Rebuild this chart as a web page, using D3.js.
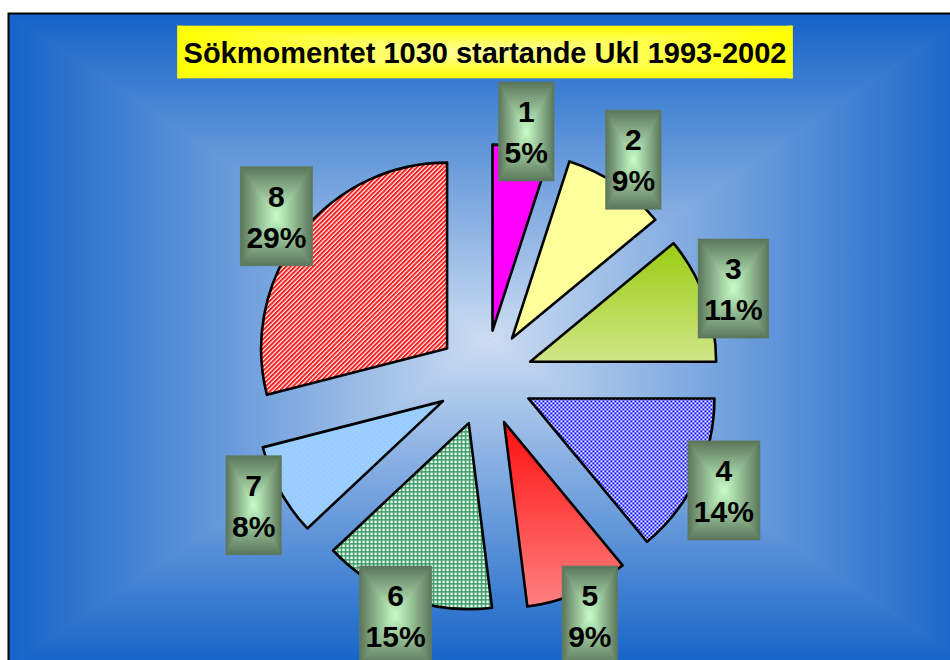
<!DOCTYPE html>
<html>
<head>
<meta charset="utf-8">
<script src="https://cdn.jsdelivr.net/npm/d3@7"></script>
<style>
  body { margin: 0; background: #fff; }
  svg { display: block; }
</style>
</head>
<body>
<div id="chart"></div>
<script>
// slice numbers and their share in percent
var sliceNames = ["1", "2", "3", "4", "5", "6", "7", "8"];
var sliceShares = [5, 9, 11, 14, 9, 15, 8, 29];
var chartTitle = "Sökmomentet 1030 startande Ukl 1993-2002";

var width = 950, height = 660;
var frame = { x: 9, y: 14, w: 962, h: 652 };
var cx = 485, cy = 378,
    radius = 186,
    explode = 48,
    labelRadius = 264;

var svg = d3.select('#chart').append('svg')
    .attr('width', width)
    .attr('height', height);

var defs = svg.append('defs');

// "from center" gradient: four triangles, each fading from its edge to the middle
function centerGradient(id, edge, mid) {
  var dirs = {
    top: [0, 0, 0, 1], bottom: [0, 1, 0, 0],
    left: [0, 0, 1, 0], right: [1, 0, 0, 0]
  };
  Object.keys(dirs).forEach(function(k) {
    var g = defs.append('linearGradient')
      .attr('id', id + '-' + k)
      .attr('x1', dirs[k][0]).attr('y1', dirs[k][1])
      .attr('x2', dirs[k][2]).attr('y2', dirs[k][3]);
    g.append('stop').attr('offset', 0).attr('stop-color', edge);
    g.append('stop').attr('offset', 1).attr('stop-color', mid);
  });
}

function centerFill(sel, id, x, y, w, h, base) {
  var mx = x + w / 2, my = y + h / 2;
  sel.append('rect').attr('x', x).attr('y', y).attr('width', w).attr('height', h)
    .attr('fill', base);
  var tris = {
    top: [[x, y], [x + w, y], [mx, my]],
    bottom: [[x, y + h], [x + w, y + h], [mx, my]],
    left: [[x, y], [x, y + h], [mx, my]],
    right: [[x + w, y], [x + w, y + h], [mx, my]]
  };
  Object.keys(tris).forEach(function(k) {
    sel.append('path')
      .attr('d', 'M' + tris[k].map(function(p) { return p.join(','); }).join('L') + 'Z')
      .attr('fill', 'url(#' + id + '-' + k + ')')
      .attr('stroke', 'url(#' + id + '-' + k + ')')
      .attr('stroke-width', 0.6);
  });
}

centerGradient('bg', '#1463c8', '#cdddf2');
centerGradient('ttl', '#ffff00', '#ffffa0');
centerGradient('lbl', '#5a755a', '#c8fec8');

// slice fills
var g3 = defs.append('linearGradient').attr('id', 'fill3')
  .attr('x1', 0).attr('y1', 0).attr('x2', 0).attr('y2', 1);
g3.append('stop').attr('offset', 0).attr('stop-color', '#99cc11');
g3.append('stop').attr('offset', 1).attr('stop-color', '#d2e688');

var g5 = defs.append('linearGradient').attr('id', 'fill5')
  .attr('x1', 0).attr('y1', 0).attr('x2', 0).attr('y2', 1);
g5.append('stop').attr('offset', 0).attr('stop-color', '#ff1010');
g5.append('stop').attr('offset', 1).attr('stop-color', '#ff8080');

var p4 = defs.append('pattern').attr('id', 'fill4')
  .attr('patternUnits', 'userSpaceOnUse').attr('width', 4).attr('height', 4);
p4.append('rect').attr('width', 4).attr('height', 4).attr('fill', '#ffffff');
p4.append('rect').attr('width', 2).attr('height', 2).attr('fill', '#0000ff');
p4.append('rect').attr('x', 2).attr('y', 2).attr('width', 2).attr('height', 2).attr('fill', '#0000ff');

var p6 = defs.append('pattern').attr('id', 'fill6')
  .attr('patternUnits', 'userSpaceOnUse').attr('width', 4).attr('height', 4);
p6.append('rect').attr('width', 4).attr('height', 4).attr('fill', '#ffffff');
p6.append('rect').attr('width', 4).attr('height', 1.5).attr('fill', '#2f9a5e');
p6.append('rect').attr('width', 1.5).attr('height', 4).attr('fill', '#2f9a5e');

var p7 = defs.append('pattern').attr('id', 'fill7')
  .attr('patternUnits', 'userSpaceOnUse').attr('width', 6).attr('height', 6);
p7.append('rect').attr('width', 6).attr('height', 6).attr('fill', '#99ccff');
p7.append('rect').attr('width', 1).attr('height', 1).attr('fill', '#b4dbff');
p7.append('rect').attr('x', 3).attr('y', 3).attr('width', 1).attr('height', 1).attr('fill', '#b4dbff');

var p8 = defs.append('pattern').attr('id', 'fill8')
  .attr('patternUnits', 'userSpaceOnUse').attr('width', 3.2).attr('height', 3.2)
  .attr('patternTransform', 'rotate(45)');
p8.append('rect').attr('width', 3.2).attr('height', 3.2).attr('fill', '#ffffff');
p8.append('rect').attr('width', 2).attr('height', 3.2).attr('fill', '#ff1a1a');

var sliceFills = ['#ff00ff', '#ffff99', 'url(#fill3)', 'url(#fill4)',
                  'url(#fill5)', 'url(#fill6)', 'url(#fill7)', 'url(#fill8)'];

// background + frame
var bg = svg.append('g');
centerFill(bg, 'bg', frame.x, frame.y, frame.w, frame.h, '#6f95d8');
svg.append('rect')
  .attr('x', frame.x - 0.5).attr('y', frame.y - 0.5)
  .attr('width', frame.w).attr('height', frame.h)
  .attr('fill', 'none').attr('stroke', '#000').attr('stroke-width', 2);

// pie
var pie = d3.pie().sort(null).startAngle(0).endAngle(2 * Math.PI);
var arcs = pie(sliceShares);
var arc = d3.arc().innerRadius(0).outerRadius(radius);

var pieG = svg.append('g').attr('transform', 'translate(' + cx + ',' + cy + ')');

pieG.selectAll('path').data(arcs)
  .enter().append('path')
    .attr('d', arc)
    .attr('transform', function(d) {
      var a = (d.startAngle + d.endAngle) / 2;
      return 'translate(' + (explode * Math.sin(a)) + ',' + (-explode * Math.cos(a)) + ')';
    })
    .attr('fill', function(d, i) { return sliceFills[i]; })
    .attr('stroke', '#000')
    .attr('stroke-width', 2.6)
    .attr('stroke-linejoin', 'round');

// title
var titleG = svg.append('g');
var titleText = titleG.append('text')
  .attr('x', 485).attr('y', 63)
  .attr('text-anchor', 'middle')
  .style('font-family', '"Liberation Sans", Arial, sans-serif')
  .style('font-weight', 'bold')
  .style('font-size', '29px')
  .text(chartTitle);
var tw = titleText.node().getComputedTextLength();
var titleBox = { x: 485 - tw / 2 - 6, y: 26, w: tw + 12, h: 52 };
var titleBg = titleG.insert('g', 'text');
centerFill(titleBg, 'ttl', titleBox.x, titleBox.y, titleBox.w, titleBox.h, '#ffff50');

// labels
var labelFont = '"Liberation Sans", Arial, sans-serif';
var labels = svg.append('g');
arcs.forEach(function(d, i) {
  var a = (d.startAngle + d.endAngle) / 2;
  var lx = cx + labelRadius * Math.sin(a),
      ly = cy - labelRadius * Math.cos(a);
  var g = labels.append('g');
  var t1 = g.append('text').text(sliceNames[i]);
  var t2 = g.append('text').text(sliceShares[i] + '%');
  g.selectAll('text')
    .attr('text-anchor', 'middle')
    .style('font-family', labelFont)
    .style('font-weight', 'bold')
    .style('font-size', '30px')
    .attr('fill', '#000');
  var w = Math.max(t1.node().getComputedTextLength(), t2.node().getComputedTextLength()) + 12;
  var h = 99;
  // keep boxes below the title and the text inside the picture
  var top = Math.max(ly - h / 2, titleBox.y + titleBox.h + 4);
  top = Math.min(top, height - h + 5);
  var left = lx - w / 2;
  t1.attr('x', lx).attr('y', top + 40);
  t2.attr('x', lx).attr('y', top + 81);
  var bgl = g.insert('g', 'text');
  centerFill(bgl, 'lbl', left, top, w, h, '#86a386');
});
</script>
</body>
</html>
